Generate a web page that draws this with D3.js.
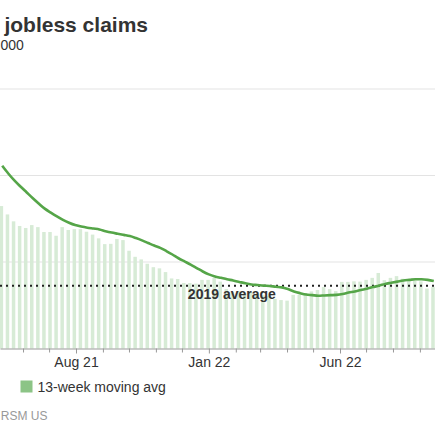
<!DOCTYPE html>
<html><head><meta charset="utf-8">
<script src="https://cdn.jsdelivr.net/npm/d3@7"></script>
<style>
body{margin:0;background:#fff;}
svg{display:block;font-family:"Liberation Sans",Arial,Helvetica,sans-serif;}
</style>
</head><body>
<svg id="chart" width="435" height="435"></svg>
<script>
// Week-ending dates (Saturdays)
const weeks = [
"2021-05-08","2021-05-15","2021-05-22","2021-05-29","2021-06-05","2021-06-12","2021-06-19","2021-06-26",
"2021-07-03","2021-07-10","2021-07-17","2021-07-24","2021-07-31","2021-08-07","2021-08-14","2021-08-21",
"2021-08-28","2021-09-04","2021-09-11","2021-09-18","2021-09-25","2021-10-02","2021-10-09","2021-10-16",
"2021-10-23","2021-10-30","2021-11-06","2021-11-13","2021-11-20","2021-11-27","2021-12-04","2021-12-11",
"2021-12-18","2021-12-25","2022-01-01","2022-01-08","2022-01-15","2022-01-22","2022-01-29","2022-02-05",
"2022-02-12","2022-02-19","2022-02-26","2022-03-05","2022-03-12","2022-03-19","2022-03-26","2022-04-02",
"2022-04-09","2022-04-16","2022-04-23","2022-04-30","2022-05-07","2022-05-14","2022-05-21","2022-05-28",
"2022-06-04","2022-06-11","2022-06-18","2022-06-25","2022-07-02","2022-07-09","2022-07-16","2022-07-23",
"2022-07-30","2022-08-06","2022-08-13","2022-08-20","2022-08-27","2022-09-03","2022-09-10","2022-09-17"];

// Weekly initial claims, thousands
const claims = [494,465,441,425,418,428,421,404,404,391,
421,411,414,414,405,395,382,362,363,380,
376,339,318,309,294,282,278,265,243,241,
227,227,225,238,238,245,232,206,196,199,
192,196,189,185,182,172,168,166,186,186,
192,198,203,213,206,199,231,231,233,232,
238,245,262,237,245,251,242,240,235,233,
208,213];

// 13-week moving average, thousands
const movingAvg = [634,607,583,562,542,522,503,485,471,458,
446,436,428,423,419,416,413,407,402,398,
394,390,383,375,366,357,349,338,326,313,
302,291,279,267,257,250,245,240,236,231,
226,222,220,218,217,214,212,206,198,192,
187,185,183,184,185,186,189,194,198,203,
207,213,218,224,228,232,236,238,240,240,
238,234];

const avg2019 = 218;
const yGrid = [300, 600, 900];
const labelMonths = ["2021-08-01","2022-01-01","2022-06-01"];

const parse = d3.timeParse("%Y-%m-%d");
const dates = weeks.map(parse);
const labelSet = new Set(labelMonths.map(s => +parse(s)));

const svg = d3.select("#chart");
const W = 435;

// x scale calibrated on two tick dates, then widened to the full window
const x = d3.scaleTime()
  .domain([parse("2021-08-01"), parse("2022-06-01")])
  .range([76, 340]);
x.domain([x.invert(0), x.invert(W)]).range([0, W]);

const y = d3.scaleLinear().domain([0, 900]).range([348.5, 89]);

// gridlines
svg.append("g").selectAll("line").data(yGrid).join("line")
  .attr("x1", 0).attr("x2", W)
  .attr("y1", d => y(d)).attr("y2", d => y(d))
  .attr("stroke", "#e3e3e3").attr("stroke-width", 1);

// bars
const barW = 3.5;
svg.append("g").selectAll("rect").data(claims).join("rect")
  .attr("x", (d, i) => x(dates[i]) - 0.8 - barW / 2)
  .attr("width", barW)
  .attr("y", d => y(d))
  .attr("height", d => y(0) - y(d))
  .attr("fill", "#d7ebd6");

// x axis
const fmt = d3.timeFormat("%b %y");
const xAxis = d3.axisBottom(x)
  .ticks(d3.timeMonth.every(1))
  .tickSize(4)
  .tickSizeOuter(0)
  .tickPadding(5)
  .tickFormat(d => labelSet.has(+d) ? fmt(d) : "");
const gx = svg.append("g").attr("transform", `translate(0,${y(0)})`).call(xAxis);
gx.select(".domain").attr("stroke", "#999");
gx.selectAll(".tick line").attr("stroke", "#999")
  .attr("y2", d => labelSet.has(+d) ? 5 : 4);
gx.selectAll(".tick text").attr("fill", "#333").style("font-size", "14px")
  .style("font-family", '"Liberation Sans",Arial,sans-serif');

// 2019 average dotted line
svg.append("line")
  .attr("x1", 0).attr("x2", W)
  .attr("y1", y(avg2019)).attr("y2", y(avg2019))
  .attr("stroke", "#222").attr("stroke-width", 2)
  .attr("stroke-dasharray", "2,4");

// moving average line
const line = d3.line()
  .x((d, i) => x(dates[i]))
  .y(d => y(d))
  .curve(d3.curveMonotoneX);
svg.append("path").datum(movingAvg)
  .attr("d", line)
  .attr("fill", "none")
  .attr("stroke", "#55a548")
  .attr("stroke-width", 2.6);

// 2019 average label
svg.append("text")
  .attr("x", x(parse("2022-01-01")) - 21).attr("y", y(avg2019) + 13.8)
  .attr("font-size", 14).attr("font-weight", "bold").attr("fill", "#333")
  .text("2019 average");

// title and subtitle (visible portion of the cropped header)
svg.append("text").attr("x", 148).attr("y", 32.3)
  .attr("text-anchor", "end")
  .attr("font-size", 21).attr("font-weight", "bold").attr("fill", "#333")
  .text("jobless claims");
svg.append("text").attr("x", 0.5).attr("y", 50)
  .attr("font-size", 14).attr("fill", "#333")
  .text("000");

// legend
svg.append("rect").attr("x", 20.5).attr("y", 380.5).attr("width", 12).attr("height", 12)
  .attr("fill", "#8cc486");
svg.append("text").attr("x", 37.5).attr("y", 391.5)
  .attr("font-size", 14).attr("fill", "#333")
  .text("13-week moving avg");

// source
svg.append("text").attr("x", 47.5).attr("y", 419.5)
  .attr("text-anchor", "end")
  .attr("font-size", 12).attr("fill", "#999")
  .text("RSM US");
</script>
</body></html>
